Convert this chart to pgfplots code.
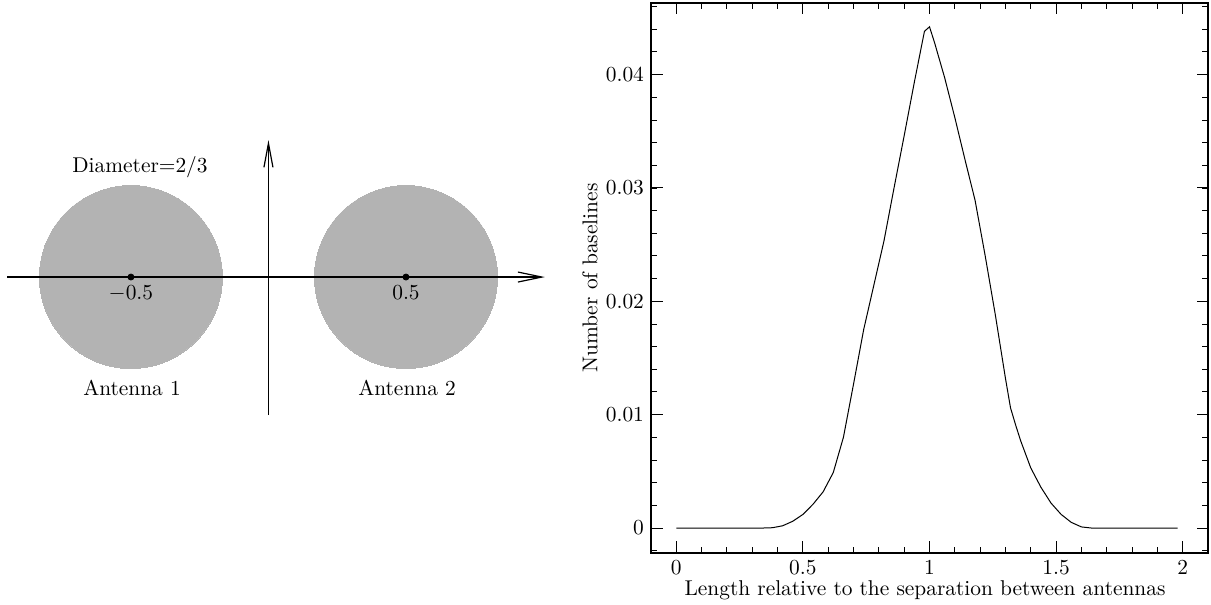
\documentclass[border=0pt]{standalone}
\usepackage{pgfplots}
\pgfplotsset{compat=1.18}
\usetikzlibrary{arrows.meta}
\definecolor{disk}{RGB}{179,179,179}
\begin{document}
\begin{tikzpicture}[font=\fontsize{10.7}{12.8}\selectfont]
\useasboundingbox (0,0) rectangle (605.5pt,302.5pt);
\pgfplotsset{sketch/.style={
  at={(0pt,87.5pt)}, anchor=south west,
  scale only axis, width=280pt, height=150pt,
  xmin=-0.976, xmax=1.06, ymin=-0.556, ymax=0.5345,
  hide axis, clip=false}}
% ---------- left: geometry sketch (disks) ----------
\begin{axis}[sketch]
\addplot[only marks, mark=*, mark size=45.75pt, color=disk, mark options={fill=disk, draw=disk, line width=0pt}]
  coordinates {(-0.5,0) (0.5,0)};
\end{axis}
% ---------- left: axes, centres, labels ----------
\begin{axis}[sketch]
\addplot[black, line width=0.6pt, -{Straight Barb[length=12pt,width=5pt]}]
  coordinates {(-0.95,0) (1.005,0)};
\addplot[black, line width=0.6pt, -{Straight Barb[length=12pt,width=4.5pt]}]
  coordinates {(0,-0.502) (0,0.498)};
\addplot[only marks, mark=*, mark size=1.5pt, black]
  coordinates {(-0.5,0) (0.5,0)};
\node at (axis cs:-0.467,0.40) {Diameter=2/3};
\node at (axis cs:-0.5,-0.058) {$-$0.5};
\node at (axis cs:0.5,-0.058) {0.5};
\node at (axis cs:-0.496,-0.404) {Antenna 1};
\node at (axis cs:0.504,-0.404) {Antenna 2};
\end{axis}
% ---------- right: baseline length distribution ----------
\begin{axis}[
  at={(325.5pt,26pt)}, anchor=south west,
  scale only axis, width=278.5pt, height=275pt,
  xmin=-0.1, xmax=2.1, ymin=-0.0022, ymax=0.0463,
  axis line style={line width=0.9pt},
  tick align=inside, major tick length=5.75pt, minor tick length=3pt,
  tick style={black, line width=0.5pt},
  xtick={0,0.5,1,1.5,2},
  xticklabels={0,0.5,1,1.5,2},
  minor xtick={-0.1,0,0.1,...,2.1},
  ytick={0,0.01,0.02,0.03,0.04},
  yticklabels={0,0.01,0.02,0.03,0.04},
  minor ytick={-0.002,0,0.002,...,0.046},
  scaled y ticks=false,
  xlabel={Length relative to the separation between antennas},
  ylabel={Number of baselines},
  xlabel style={at={(axis description cs:0.492,-0.0673)}, anchor=center},
  ylabel style={at={(axis description cs:-0.1095,0.5)}, anchor=center, rotate=0},
]
\addplot[black, line width=0.5pt] coordinates {
(0,0) (0.34,0) (0.38,0.00003) (0.42,0.0002) (0.46,0.0006) (0.50,0.0012)
(0.54,0.0021) (0.58,0.0032) (0.62,0.0049) (0.66,0.0080) (0.70,0.0127)
(0.74,0.0175) (0.78,0.0214) (0.82,0.0253) (0.86,0.0300) (0.90,0.0346)
(0.94,0.0393) (0.98,0.0438) (1.00,0.0442) (1.02,0.0428) (1.06,0.0397)
(1.10,0.0362) (1.14,0.0325) (1.18,0.0289) (1.22,0.0240) (1.26,0.0188)
(1.28,0.0160) (1.30,0.0132) (1.32,0.0106) (1.34,0.0091) (1.36,0.0077)
(1.40,0.0053) (1.44,0.0036) (1.48,0.0022) (1.52,0.0012) (1.56,0.0005)
(1.60,0.0001) (1.64,0) (1.98,0)
};
\end{axis}
\end{tikzpicture}
\end{document}
